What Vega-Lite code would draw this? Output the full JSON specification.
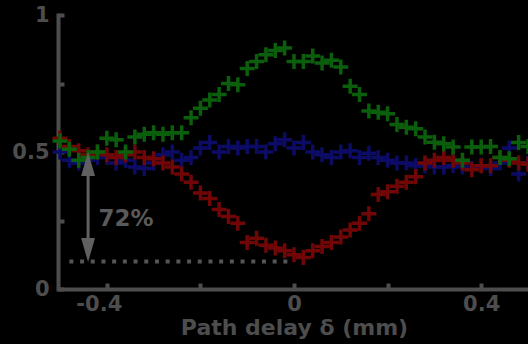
{
  "$schema": "https://vega.github.io/schema/vega-lite/v6.json",
  "width": 468,
  "height": 274,
  "autosize": {"type": "none"},
  "padding": {"left": 60, "top": 15, "right": 0, "bottom": 55},
  "background": "black",
  "config": {"view": {"stroke": null}},
  "datasets": {
    "pts": [
      {"x": -0.50, "y": 0.50, "s": "b"}, {"x": -0.48, "y": 0.47, "s": "b"}, {"x": -0.46, "y": 0.46, "s": "b"}, {"x": -0.44, "y": 0.47, "s": "b"}, {"x": -0.42, "y": 0.48, "s": "b"}, {"x": -0.40, "y": 0.48, "s": "b"}, {"x": -0.38, "y": 0.46, "s": "b"}, {"x": -0.36, "y": 0.47, "s": "b"}, {"x": -0.34, "y": 0.445, "s": "b"}, {"x": -0.32, "y": 0.44, "s": "b"}, {"x": -0.30, "y": 0.46, "s": "b"}, {"x": -0.28, "y": 0.49, "s": "b"}, {"x": -0.26, "y": 0.50, "s": "b"}, {"x": -0.24, "y": 0.47, "s": "b"}, {"x": -0.22, "y": 0.48, "s": "b"}, {"x": -0.20, "y": 0.515, "s": "b"}, {"x": -0.18, "y": 0.535, "s": "b"}, {"x": -0.16, "y": 0.50, "s": "b"}, {"x": -0.14, "y": 0.52, "s": "b"}, {"x": -0.12, "y": 0.515, "s": "b"}, {"x": -0.10, "y": 0.52, "s": "b"}, {"x": -0.08, "y": 0.52, "s": "b"}, {"x": -0.06, "y": 0.50, "s": "b"}, {"x": -0.04, "y": 0.53, "s": "b"}, {"x": -0.02, "y": 0.545, "s": "b"}, {"x": 0.00, "y": 0.515, "s": "b"}, {"x": 0.02, "y": 0.535, "s": "b"}, {"x": 0.04, "y": 0.50, "s": "b"}, {"x": 0.06, "y": 0.49, "s": "b"}, {"x": 0.08, "y": 0.48, "s": "b"}, {"x": 0.10, "y": 0.50, "s": "b"}, {"x": 0.12, "y": 0.505, "s": "b"}, {"x": 0.14, "y": 0.48, "s": "b"}, {"x": 0.16, "y": 0.495, "s": "b"}, {"x": 0.18, "y": 0.48, "s": "b"}, {"x": 0.20, "y": 0.47, "s": "b"}, {"x": 0.22, "y": 0.46, "s": "b"}, {"x": 0.24, "y": 0.46, "s": "b"}, {"x": 0.26, "y": 0.45, "s": "b"}, {"x": 0.28, "y": 0.45, "s": "b"}, {"x": 0.30, "y": 0.445, "s": "b"}, {"x": 0.32, "y": 0.445, "s": "b"}, {"x": 0.34, "y": 0.45, "s": "b"}, {"x": 0.36, "y": 0.445, "s": "b"}, {"x": 0.38, "y": 0.44, "s": "b"}, {"x": 0.40, "y": 0.45, "s": "b"}, {"x": 0.42, "y": 0.44, "s": "b"}, {"x": 0.44, "y": 0.46, "s": "b"}, {"x": 0.46, "y": 0.515, "s": "b"}, {"x": 0.48, "y": 0.42, "s": "b"}, {"x": 0.50, "y": 0.46, "s": "b"},
      {"x": -0.50, "y": 0.55, "s": "r"}, {"x": -0.48, "y": 0.52, "s": "r"}, {"x": -0.46, "y": 0.505, "s": "r"}, {"x": -0.44, "y": 0.49, "s": "r"}, {"x": -0.42, "y": 0.50, "s": "r"}, {"x": -0.40, "y": 0.49, "s": "r"}, {"x": -0.38, "y": 0.48, "s": "r"}, {"x": -0.36, "y": 0.49, "s": "r"}, {"x": -0.34, "y": 0.50, "s": "r"}, {"x": -0.32, "y": 0.48, "s": "r"}, {"x": -0.30, "y": 0.475, "s": "r"}, {"x": -0.28, "y": 0.46, "s": "r"}, {"x": -0.26, "y": 0.445, "s": "r"}, {"x": -0.24, "y": 0.42, "s": "r"}, {"x": -0.22, "y": 0.39, "s": "r"}, {"x": -0.20, "y": 0.35, "s": "r"}, {"x": -0.18, "y": 0.33, "s": "r"}, {"x": -0.16, "y": 0.29, "s": "r"}, {"x": -0.14, "y": 0.265, "s": "r"}, {"x": -0.12, "y": 0.24, "s": "r"}, {"x": -0.10, "y": 0.17, "s": "r"}, {"x": -0.08, "y": 0.185, "s": "r"}, {"x": -0.06, "y": 0.16, "s": "r"}, {"x": -0.04, "y": 0.15, "s": "r"}, {"x": -0.02, "y": 0.14, "s": "r"}, {"x": 0.00, "y": 0.125, "s": "r"}, {"x": 0.02, "y": 0.115, "s": "r"}, {"x": 0.04, "y": 0.14, "s": "r"}, {"x": 0.06, "y": 0.155, "s": "r"}, {"x": 0.08, "y": 0.17, "s": "r"}, {"x": 0.10, "y": 0.19, "s": "r"}, {"x": 0.12, "y": 0.215, "s": "r"}, {"x": 0.14, "y": 0.24, "s": "r"}, {"x": 0.16, "y": 0.275, "s": "r"}, {"x": 0.18, "y": 0.345, "s": "r"}, {"x": 0.20, "y": 0.355, "s": "r"}, {"x": 0.22, "y": 0.375, "s": "r"}, {"x": 0.24, "y": 0.39, "s": "r"}, {"x": 0.26, "y": 0.41, "s": "r"}, {"x": 0.28, "y": 0.46, "s": "r"}, {"x": 0.30, "y": 0.47, "s": "r"}, {"x": 0.32, "y": 0.48, "s": "r"}, {"x": 0.34, "y": 0.47, "s": "r"}, {"x": 0.36, "y": 0.46, "s": "r"}, {"x": 0.38, "y": 0.435, "s": "r"}, {"x": 0.40, "y": 0.45, "s": "r"}, {"x": 0.42, "y": 0.45, "s": "r"}, {"x": 0.44, "y": 0.48, "s": "r"}, {"x": 0.46, "y": 0.47, "s": "r"}, {"x": 0.48, "y": 0.46, "s": "r"}, {"x": 0.50, "y": 0.455, "s": "r"},
      {"x": -0.50, "y": 0.54, "s": "g"}, {"x": -0.48, "y": 0.51, "s": "g"}, {"x": -0.46, "y": 0.47, "s": "g"}, {"x": -0.44, "y": 0.48, "s": "g"}, {"x": -0.42, "y": 0.50, "s": "g"}, {"x": -0.40, "y": 0.55, "s": "g"}, {"x": -0.38, "y": 0.545, "s": "g"}, {"x": -0.36, "y": 0.50, "s": "g"}, {"x": -0.34, "y": 0.555, "s": "g"}, {"x": -0.32, "y": 0.565, "s": "g"}, {"x": -0.30, "y": 0.57, "s": "g"}, {"x": -0.28, "y": 0.565, "s": "g"}, {"x": -0.26, "y": 0.57, "s": "g"}, {"x": -0.24, "y": 0.57, "s": "g"}, {"x": -0.22, "y": 0.625, "s": "g"}, {"x": -0.20, "y": 0.66, "s": "g"}, {"x": -0.18, "y": 0.69, "s": "g"}, {"x": -0.16, "y": 0.71, "s": "g"}, {"x": -0.14, "y": 0.75, "s": "g"}, {"x": -0.12, "y": 0.745, "s": "g"}, {"x": -0.10, "y": 0.805, "s": "g"}, {"x": -0.08, "y": 0.83, "s": "g"}, {"x": -0.06, "y": 0.855, "s": "g"}, {"x": -0.04, "y": 0.87, "s": "g"}, {"x": -0.02, "y": 0.88, "s": "g"}, {"x": 0.00, "y": 0.83, "s": "g"}, {"x": 0.02, "y": 0.83, "s": "g"}, {"x": 0.04, "y": 0.85, "s": "g"}, {"x": 0.06, "y": 0.825, "s": "g"}, {"x": 0.08, "y": 0.835, "s": "g"}, {"x": 0.10, "y": 0.81, "s": "g"}, {"x": 0.12, "y": 0.74, "s": "g"}, {"x": 0.14, "y": 0.71, "s": "g"}, {"x": 0.16, "y": 0.65, "s": "g"}, {"x": 0.18, "y": 0.645, "s": "g"}, {"x": 0.20, "y": 0.64, "s": "g"}, {"x": 0.22, "y": 0.60, "s": "g"}, {"x": 0.24, "y": 0.59, "s": "g"}, {"x": 0.26, "y": 0.585, "s": "g"}, {"x": 0.28, "y": 0.555, "s": "g"}, {"x": 0.30, "y": 0.536, "s": "g"}, {"x": 0.32, "y": 0.53, "s": "g"}, {"x": 0.34, "y": 0.518, "s": "g"}, {"x": 0.36, "y": 0.47, "s": "g"}, {"x": 0.38, "y": 0.518, "s": "g"}, {"x": 0.40, "y": 0.518, "s": "g"}, {"x": 0.42, "y": 0.52, "s": "g"}, {"x": 0.44, "y": 0.48, "s": "g"}, {"x": 0.46, "y": 0.475, "s": "g"}, {"x": 0.48, "y": 0.535, "s": "g"}, {"x": 0.50, "y": 0.52, "s": "g"}
    ]
  },
  "layer": [
    {
      "data": {"name": "pts"},
      "mark": {"type": "point", "shape": "M-1,0L1,0M0,-1L0,1", "filled": false, "size": 225, "strokeWidth": 3.5, "opacity": 1},
      "encoding": {
        "x": {
          "field": "x", "type": "quantitative",
          "scale": {"domain": [-0.5, 0.5], "nice": false},
          "axis": {
            "values": [-0.4, -0.2, 0, 0.2, 0.4],
            "labelExpr": "abs(datum.value) < 0.01 ? '0' : (abs(abs(datum.value) - 0.4) < 0.01 ? (datum.value < 0 ? '-0.4' : '0.4') : '')",
            "labelOffset": {"condition": {"test": "datum.value < 0", "value": -8}, "value": 0},
            "title": "Path delay δ (mm)",
            "grid": false,
            "domainColor": "#4d4d4d", "domainWidth": 4, "domainCap": "square",
            "tickColor": "#4d4d4d", "tickWidth": 4, "tickSize": -6,
            "labelPadding": 10,
            "labelColor": "#4d4d4d", "labelFont": "DejaVu Sans", "labelFontWeight": "bold", "labelFontSize": 21,
            "titleColor": "#4d4d4d", "titleFont": "DejaVu Sans", "titleFontWeight": "bold", "titleFontSize": 22,
            "titlePadding": 3
          }
        },
        "y": {
          "field": "y", "type": "quantitative",
          "scale": {"domain": [0, 1], "nice": false},
          "axis": {
            "values": [0, 0.25, 0.5, 0.75, 1],
            "labelExpr": "datum.value == 0 ? '0' : (datum.value == 0.5 ? '0.5' : (datum.value == 1 ? '1' : ''))",
            "title": null,
            "grid": false,
            "offset": 2,
            "domainColor": "#4d4d4d", "domainWidth": 4, "domainCap": "square",
            "tickColor": "#4d4d4d", "tickWidth": 4, "tickSize": -6,
            "labelPadding": 15,
            "labelColor": "#4d4d4d", "labelFont": "DejaVu Sans", "labelFontWeight": "bold", "labelFontSize": 21
          }
        },
        "color": {
          "field": "s", "type": "nominal",
          "scale": {"domain": ["b", "r", "g"], "range": ["#0c0c66", "#700606", "#0b5e0b"]},
          "legend": null
        }
      }
    },
    {
      "data": {"values": [{"x": -0.48, "x2": 0, "y": 0.1}]},
      "mark": {"type": "rule", "color": "#555555", "strokeWidth": 4, "strokeDash": [4, 6.7]},
      "encoding": {
        "x": {"field": "x", "type": "quantitative"},
        "x2": {"field": "x2"},
        "y": {"field": "y", "type": "quantitative"}
      }
    },
    {
      "data": {"values": [{"x": -0.44, "y": 0.14, "y2": 0.46}]},
      "mark": {"type": "rule", "color": "#606060", "strokeWidth": 3},
      "encoding": {
        "x": {"field": "x", "type": "quantitative"},
        "y": {"field": "y", "type": "quantitative"},
        "y2": {"field": "y2"}
      }
    },
    {
      "data": {"values": [{"x": -0.44, "y": 0.456, "d": "up"}, {"x": -0.44, "y": 0.142, "d": "down"}]},
      "mark": {"type": "point", "filled": true, "size": 576, "color": "#606060", "opacity": 1},
      "encoding": {
        "x": {"field": "x", "type": "quantitative"},
        "y": {"field": "y", "type": "quantitative"},
        "shape": {
          "field": "d", "type": "nominal",
          "scale": {"domain": ["up", "down"], "range": ["M0,-1L0.58,1L-0.58,1Z", "M0,1L0.58,-1L-0.58,-1Z"]},
          "legend": null
        }
      }
    },
    {
      "data": {"values": [{"x": -0.418, "y": 0.255, "t": "72%"}]},
      "mark": {"type": "text", "align": "left", "baseline": "middle", "font": "DejaVu Sans", "fontWeight": "bold", "fontSize": 23, "color": "#5a5a5a"},
      "encoding": {
        "x": {"field": "x", "type": "quantitative"},
        "y": {"field": "y", "type": "quantitative"},
        "text": {"field": "t"}
      }
    }
  ]
}
